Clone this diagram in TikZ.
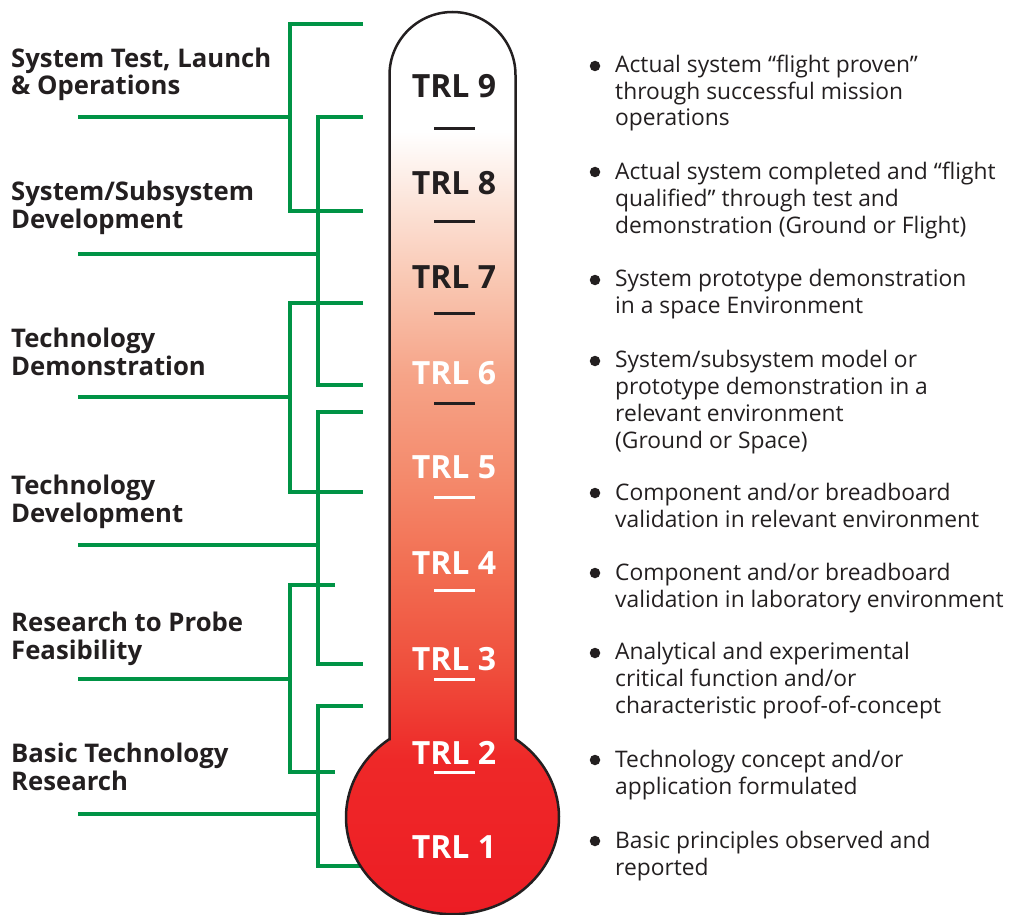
\documentclass[tikz,border=0pt]{standalone}
\usepackage{fontspec}
\setmainfont{Open Sans}
\definecolor{trlgreen}{RGB}{0,147,69}
\definecolor{trlink}{RGB}{35,31,32}
\definecolor{trlred}{RGB}{237,28,36}
\definecolor{trla}{RGB}{238,40,40}
\definecolor{trlb}{RGB}{239,78,60}
\definecolor{trlc}{RGB}{242,110,82}
\definecolor{trld}{RGB}{244,138,108}
\definecolor{trle}{RGB}{246,164,136}
\definecolor{trlf}{RGB}{249,198,177}
\definecolor{trlg}{RGB}{252,228,217}
\pgfdeclareverticalshading{trlshade}{100bp}{color(0bp)=(trlred); color(25bp)=(trlred);
	color(34.09bp)=(trla); color(39.08bp)=(trlb); color(44.62bp)=(trlc); color(49.61bp)=(trld);
	color(55.16bp)=(trle); color(60.14bp)=(trlf); color(64.58bp)=(trlg); color(68.46bp)=(white); color(100bp)=(white)}
\tikzset{
	bracket/.style={trlgreen, line width=4, line join=miter},
	level/.style={inner sep=0, font=\bfseries\fontsize{32}{32}\selectfont},
	tick/.style={line width=3},
	phase/.style={anchor=base west, align=left, inner sep=0, text=trlink, font=\bfseries\fontsize{25.7}{27.5}\selectfont},
	desc/.style={anchor=base west, align=left, inner sep=0, text=trlink, font=\fontsize{22.8}{26.7}\selectfont},
	bullet/.style={circle, fill=trlink, inner sep=0, minimum size=10.5}
}
\begin{document}
\begin{tikzpicture}[x=1pt, y=-1pt]
	\useasboundingbox (0,0) rectangle (1015,915);
	% brackets
	\foreach \sx/\ty/\by/\my/\ex [count=\i] in {290/24/211/117/363, 318/117/385/254/363, 290/303/492/397/363,
			318/412/664/545/363, 290/585/772/679/335, 318/706/866/814/363}
	{
		\coordinate (top\i) at (\ex,\ty);
		\coordinate (bot\i) at (\ex,\by);
		\coordinate (stub\i) at (78,\my);
		\draw[bracket] (top\i) -| (\sx,\by) -- (bot\i);
		\draw[bracket] (stub\i) -- (\sx,\my);
	}
	% thermometer
	\path[shade, shading=trlshade, draw=trlink, line width=2.5] (389.5,739) -- (389.5,75)
		arc[start angle=180, end angle=0, radius=63pt] -- (515.5,739)
		arc[start angle=53.73, end angle=-233.73, x radius=106.5pt, y radius=97pt] -- cycle;
	\foreach \y/\c in {129/trlink, 221/trlink, 313/trlink, 403/trlink, 497/white, 590/white, 679/white, 772/white}
		\draw[tick, \c] (434,\y) -- (475,\y);
	\foreach \n/\y/\c in {9/86/trlink, 8/183/trlink, 7/277/trlink, 6/373/white, 5/467/white,
			4/563/white, 3/659/white, 2/753/white, 1/847/white}
		\node[level, text=\c] (trl\n) at (454,\y) {TRL \n};
	% phases (placed at the last baseline)
	\node[phase] (ph9) at (11,95) {System Test, Launch\\\& Operations};
	\node[phase] (ph8) at (11,228) {System/Subsystem\\Development};
	\node[phase] (ph6) at (11,375) {Technology\\Demonstration};
	\node[phase] (ph4) at (11,522) {Technology\\Development};
	\node[phase] (ph3) at (11,659) {Research to Probe\\Feasibility};
	\node[phase] (ph1) at (11,790) {Basic Technology\\Research};
	% descriptions
	\foreach \y/\ly/\t [count=\i] in {73/126/{Actual system “flight proven”\\through successful mission\\operations},
			179/233/{Actual system completed and “flight\\qualified” through test and\\demonstration (Ground or Flight)},
			287/313/{System prototype demonstration\\in a space Environment},
			368/448/{System/subsystem model or\\prototype demonstration in a\\relevant environment\\(Ground or Space)},
			500/527/{Component and/or breadboard\\validation in relevant environment},
			580/607/{Component and/or breadboard\\validation in laboratory environment},
			660/713/{Analytical and experimental\\critical function and/or\\characteristic proof-of-concept},
			767/794/{Technology concept and/or\\application formulated},
			848/875/{Basic principles observed and\\reported}}
	{
		\node[bullet] (dot\i) at (595,\y-7) {};
		\node[desc] (desc\i) at (615,\ly) {\t};
	}
\end{tikzpicture}
\end{document}
